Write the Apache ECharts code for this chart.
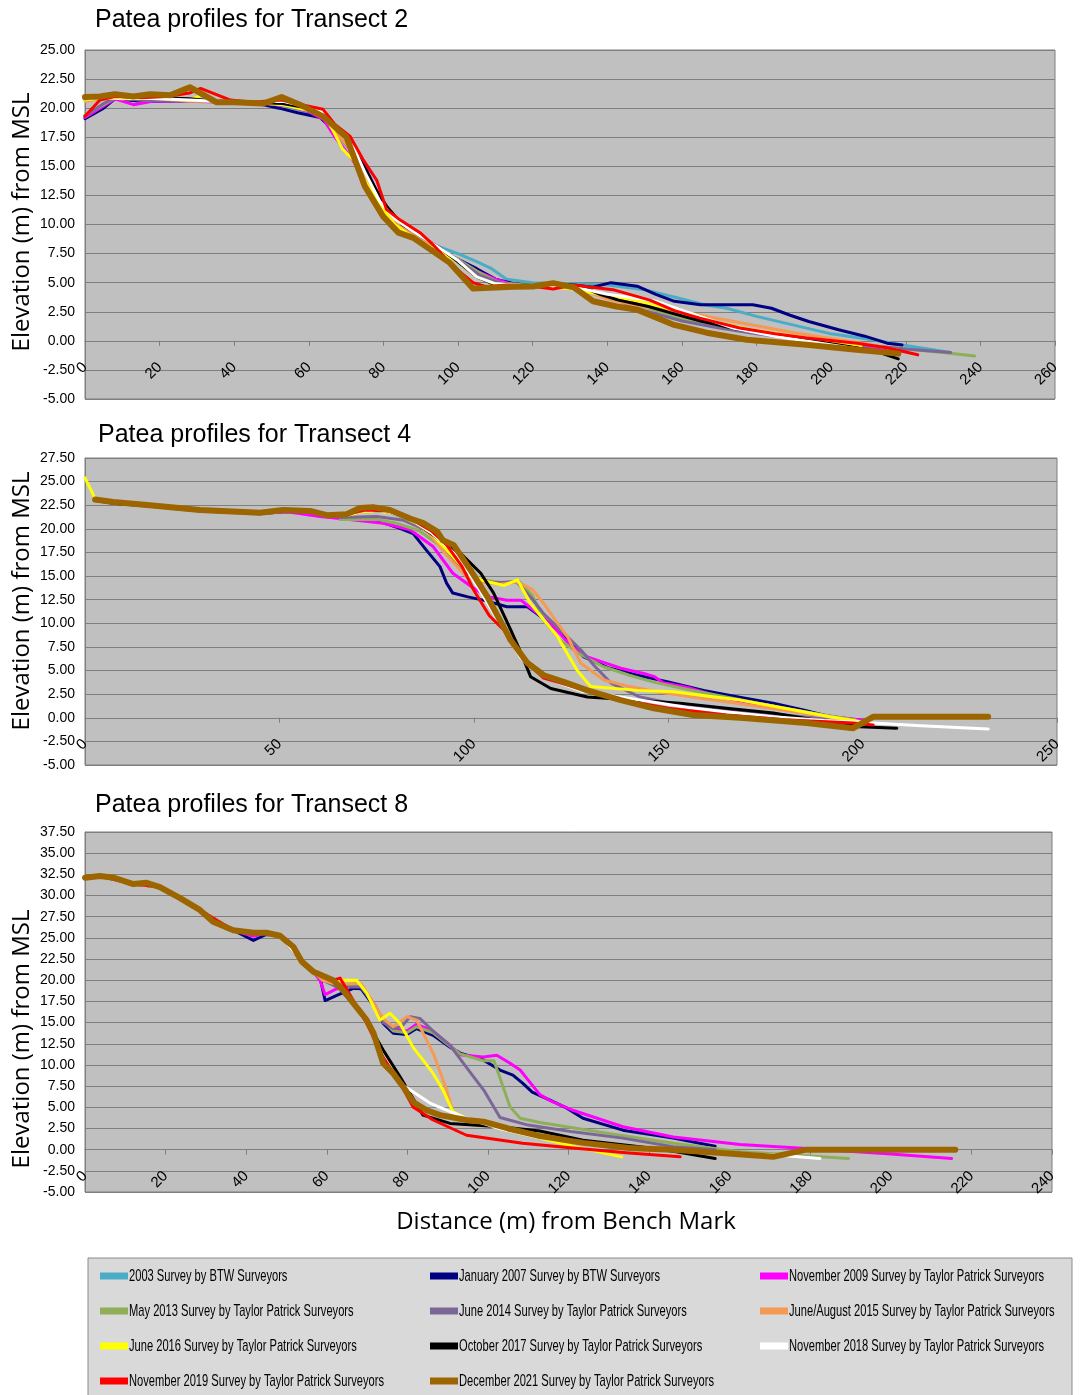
<!DOCTYPE html>
<html><head><meta charset="utf-8">
<script src="https://cdn.jsdelivr.net/npm/echarts@6/dist/echarts.min.js"></script>
<style>html,body{margin:0;padding:0;background:#fff}#c{width:1081px;height:1395px}</style>
</head><body><div id="c"></div>
<script>
// ---------- series meta ----------
const seriesNames = [
  "2003 Survey by BTW Surveyors",
  "January 2007 Survey by BTW Surveyors",
  "November 2009 Survey by Taylor Patrick Surveyors",
  "May 2013 Survey by Taylor Patrick Surveyors",
  "June 2014 Survey by Taylor Patrick Surveyors",
  "June/August 2015 Survey by Taylor Patrick Surveyors",
  "June 2016 Survey by Taylor Patrick Surveyors",
  "October 2017 Survey by Taylor Patrick Surveyors",
  "November 2018 Survey by Taylor Patrick Surveyors",
  "November 2019 Survey by Taylor Patrick Surveyors",
  "December 2021 Survey by Taylor Patrick Surveyors"
];
const seriesColors = ["#4bacc6","#000080","#ff00ff","#8fae58","#7b6698","#f59a55","#ffff00","#000000","#ffffff","#ff0000","#9c6500"];
const chartTitles = ["Patea profiles for Transect 2","Patea profiles for Transect 4","Patea profiles for Transect 8"];
const yTitle = "Elevation (m) from MSL";
const xTitle = "Distance (m) from Bench Mark";
const xMax = [260, 250, 240];
const xInterval = [20, 50, 20];
const yMax = [25, 27.5, 37.5];

// ---------- Transect 2 ----------
const t2_2003 = [[0,19.3],[5,20.3],[8,20.8],[15,20.7],[25,20.7],[35,20.6],[45,20.5],[52,20.3],[58,19.8],[63,19.3],[67,17.8],[71,16.5],[75,14.0],[79,11.8],[83,10.3],[88,9.2],[93,8.3],[100,7.5],[105,6.8],[109,6.2],[113,5.3],[120,5.0],[130,4.9],[140,4.8],[150,4.4],[160,3.6],[166,3.1],[172,2.8],[180,2.1],[192,1.2],[200,0.6],[211,0.1],[220,-0.4],[232,-1.0]];
const t2_2007 = [[0,19.1],[5,20.0],[8,20.8],[15,20.6],[25,20.6],[35,20.6],[45,20.5],[52,20.0],[57,19.6],[63,19.2],[67,18.0],[71,16.8],[75,15.0],[79,12.3],[83,10.3],[88,9.0],[93,8.1],[100,7.0],[105,6.2],[110,5.3],[115,4.9],[122,4.7],[131,4.8],[136,4.6],[141,5.0],[148,4.7],[153,4.0],[158,3.4],[165,3.1],[172,3.1],[179,3.1],[184,2.8],[189,2.2],[194,1.66],[202,0.95],[209,0.4],[215,-0.2],[219,-0.35]];
const t2_2009 = [[0,19.2],[4,20.0],[8,20.8],[13,20.3],[18,20.6],[28,20.6],[38,20.5],[48,20.4],[54,20.2],[60,19.7],[64,19.0],[67,17.5],[70,16.3],[74,14.5],[78,12.2],[82,10.0],[87,9.0],[93,8.0],[100,7.0],[105,6.0],[110,5.3],[115,4.8],[120,4.7],[130,4.6],[140,3.9],[150,3.0],[160,2.1],[170,1.4],[180,0.8],[190,0.3],[200,-0.1],[210,-0.5],[220,-0.9]];
const t2_2013 = [[0,19.4],[5,20.3],[8,20.9],[15,20.7],[25,20.7],[35,20.6],[45,20.5],[53,20.3],[60,19.8],[64,19.2],[68,17.5],[72,16.3],[75,14.0],[79,11.5],[83,10.2],[88,9.0],[94,8.0],[100,7.0],[106,5.8],[111,5.0],[118,4.8],[125,4.8],[132,4.6],[140,3.9],[150,2.9],[160,1.9],[170,1.3],[180,0.7],[190,0.3],[200,-0.1],[210,-0.4],[220,-0.7],[230,-1.0],[238.5,-1.3]];
const t2_2014 = [[0,19.3],[5,20.4],[8,20.9],[15,20.7],[25,20.6],[35,20.6],[45,20.5],[53,20.3],[60,19.8],[64,19.2],[68,17.6],[72,16.2],[75,14.0],[79,11.6],[83,10.1],[88,9.0],[94,8.0],[100,6.9],[106,5.6],[111,5.0],[118,4.7],[125,4.8],[132,4.6],[140,3.8],[150,2.6],[160,1.7],[170,1.1],[180,0.6],[190,0.2],[200,-0.1],[210,-0.4],[220,-0.7],[232,-1.0]];
const t2_2015 = [[0,20.6],[5,20.8],[10,21.0],[20,20.8],[28,20.6],[35,20.6],[45,20.5],[53,20.5],[60,20.0],[64,19.4],[68,17.6],[72,16.2],[75,14.0],[79,11.8],[83,10.3],[88,9.2],[94,8.0],[100,6.8],[105,5.5],[110,4.9],[120,4.7],[130,4.7],[140,3.6],[150,2.9],[160,2.5],[170,1.9],[180,1.3],[190,0.7],[200,0.2],[210,-0.3],[218,-0.8]];
const t2_2016 = [[0,20.7],[5,20.9],[10,20.8],[20,20.9],[28,20.7],[32,21.2],[36,20.5],[45,20.5],[53,20.3],[60,19.8],[65,19.0],[69,16.5],[72,15.5],[75,13.8],[79,11.7],[83,10.0],[88,8.9],[94,7.8],[100,6.8],[105,5.5],[110,4.8],[120,4.7],[130,4.5],[138,4.0],[147,3.5],[155,2.9],[162,2.4],[169,1.6],[178,1.0],[188,0.5],[198,0.0],[208,-0.4]];
const t2_2017 = [[0,20.8],[5,20.9],[10,21.0],[20,20.9],[28,20.8],[35,20.6],[45,20.5],[53,20.4],[60,20.0],[64,19.5],[67,18.4],[71,17.0],[75,14.8],[78,13.0],[81,11.5],[85,10.0],[90,9.0],[95,8.0],[100,6.8],[105,5.5],[110,4.8],[120,4.7],[130,4.8],[135,4.4],[138,4.0],[143,3.5],[151,2.95],[157,2.4],[165,1.7],[175,1.0],[185,0.5],[195,0.0],[205,-0.5],[212,-0.9],[218,-1.55]];
const t2_2018 = [[0,20.8],[5,20.9],[10,20.9],[20,20.8],[28,20.7],[35,20.6],[45,20.5],[53,20.6],[60,20.1],[64,19.6],[68,18.0],[72,16.6],[75,14.5],[79,12.0],[83,10.5],[88,9.4],[94,8.2],[100,6.9],[105,5.5],[110,4.9],[120,4.7],[130,4.7],[140,4.0],[147,3.7],[153,3.4],[163,2.3],[173.7,1.1],[185,0.4],[195,-0.1],[205,-0.6],[215,-1.0]];
const t2_2019 = [[0,19.3],[4,20.7],[8,21.0],[15,20.9],[22,21.0],[28,21.3],[31,21.7],[39,20.7],[45,20.5],[52.7,20.7],[58,20.3],[63.8,19.9],[67,18.6],[71,17.6],[74.5,15.6],[78.2,13.8],[80.8,11.3],[84.4,10.4],[89.8,9.3],[93.5,8.2],[97.8,6.7],[101,5.8],[104,5.0],[107.5,4.65],[113,4.8],[120,4.7],[125.5,4.45],[131,4.8],[141.5,4.4],[151.4,3.5],[158,2.6],[164.8,1.95],[175.5,1.1],[185,0.6],[193.5,0.25],[206.9,-0.2],[215,-0.6],[223.2,-1.2]];
const t2_2021 = [[0,20.95],[4,21.0],[8,21.2],[13,21.0],[17.4,21.2],[22.8,21.1],[28.1,21.8],[35.3,20.5],[40,20.5],[47.8,20.4],[52.7,20.95],[57.6,20.3],[63.8,19.3],[70.1,17.5],[75,13.3],[79.9,10.7],[84,9.3],[88,8.85],[93.3,7.7],[97.8,6.7],[104,4.5],[114.7,4.65],[120,4.67],[125.5,4.96],[131,4.6],[136.2,3.4],[142.5,2.95],[148,2.67],[157.6,1.4],[166.6,0.7],[177.4,0.09],[193.4,-0.34],[206.8,-0.77],[218,-1.1]];

// ---------- Transect 4 ----------
const t4_2007 = [[2.6,23.0],[7.3,22.7],[16.7,22.4],[29.6,21.9],[45,21.6],[51,21.8],[57.9,21.8],[62.2,21.3],[68,21.2],[75,20.9],[80,20.2],[84.4,19.5],[87.9,17.7],[91.3,16.0],[93,14.25],[94.6,13.2],[98.5,12.8],[103,12.4],[108.5,11.75],[113.8,11.75],[117.6,10.6],[121.5,9.3],[128.3,6.45],[134.5,5.3],[142.1,4.5],[150,3.8],[159.1,2.9],[168,2.2],[177,1.55],[185,0.8],[191.6,0.1],[199.3,-0.25]];
const t4_2009 = [[2.6,23.1],[10,22.7],[20,22.3],[30,21.9],[45,21.7],[52,21.8],[60.4,21.3],[68,21.0],[76.7,20.6],[83.6,19.9],[89.6,18.1],[94.6,15.3],[100.7,13.5],[104,12.8],[108.5,12.45],[112.1,12.45],[116,11.2],[120.6,9.6],[125,7.6],[129.2,6.45],[137.8,5.25],[144.5,4.6],[146.5,4.35],[148.7,3.7],[155,3.2],[163.3,2.2],[175,1.3],[185,0.6],[192.4,0.1],[200.1,-0.25]];
const t4_2013 = [[65.6,21.0],[75,21.0],[80,20.6],[86,19.8],[91,18.3],[95,16.5],[99,15.0],[102,14.6],[107.5,14.3],[111.5,14.5],[115,13.0],[118,10.3],[122,8.3],[127,6.8],[133.4,5.4],[140,4.5],[146,3.8],[155,3.0],[168.5,1.9],[180,1.0],[190,0.3],[198,-0.2]];
const t4_2014 = [[65.6,21.2],[75,21.3],[82,20.9],[88,19.8],[92,18.3],[96,16.2],[100,14.8],[105,14.3],[111,14.4],[115,12.6],[118,11.0],[121.5,9.6],[127.5,7.2],[131,5.5],[135.2,3.7],[142.7,2.2],[150,1.6],[159.9,1.16],[170,0.7],[180,0.3],[190,-0.1],[198,-0.5]];
const t4_2015 = [[68,21.8],[75,22.0],[80,21.6],[85,20.7],[89,19.3],[93,17.2],[98,15.0],[101.6,14.4],[106.6,14.1],[111.2,14.4],[115,13.6],[118,12.1],[121,10.3],[124.1,8.6],[127.5,5.8],[133.4,4.0],[140,3.3],[148,2.7],[158,2.1],[168,1.5],[178,0.9],[188,0.3],[196,-0.2],[200,-0.5]];
const t4_2016 = [[0,25.4],[2.6,23.2],[7.3,22.8],[16.7,22.4],[29.6,21.9],[45,21.6],[51,21.9],[57.9,21.8],[62.2,21.4],[67.3,21.4],[71,21.8],[75,21.9],[80,21.6],[85,20.6],[89,19.5],[93,17.8],[97,16.0],[101.8,14.6],[107.7,14.0],[111.2,14.6],[114.6,12.1],[121.5,8.6],[126.6,5.0],[130.1,3.3],[142.1,2.9],[151.3,2.75],[160,2.3],[168.5,1.87],[180,1.0],[191.6,0.1],[199.3,-0.4]];
const t4_2017 = [[2.6,23.1],[7.3,22.85],[16.7,22.5],[29.6,22.0],[45,21.7],[51,22.0],[57.9,21.9],[62.2,21.45],[67.3,21.55],[72,22.0],[78,21.8],[84,20.9],[89,19.5],[93,18.3],[96.6,17.4],[101.8,15.3],[105.1,13.2],[109.5,9.3],[112,7.0],[114.6,4.35],[119.8,3.1],[129.2,2.2],[140,1.9],[153,1.55],[165,1.0],[177,0.5],[190,-0.4],[199.3,-0.95],[208.8,-1.1]];
const t4_2018 = [[2.6,23.1],[7.3,22.85],[16.7,22.5],[29.6,22.0],[45,21.7],[51,22.0],[57.9,21.9],[62.2,21.45],[67.3,21.55],[72,22.0],[78,21.8],[84,20.9],[89,19.6],[93,18.2],[97,16.5],[100,14.5],[104,11.8],[108,9.0],[112,6.4],[115,5.2],[120,4.0],[128,2.8],[142.7,1.87],[155,1.1],[165,0.6],[177,0.1],[190,-0.3],[202.7,-0.56],[215,-0.85],[232.3,-1.2]];
const t4_2019 = [[2.6,23.1],[7.3,22.85],[16.7,22.5],[29.6,22.0],[45,21.7],[51,22.0],[57.9,21.9],[62.2,21.45],[67.3,21.55],[72,22.0],[78,21.9],[84,21.0],[89,19.8],[93,18.3],[97,16.0],[100,13.5],[104,10.8],[107.7,9.3],[112.9,6.1],[118,4.2],[125.5,3.3],[138.4,1.87],[150,1.0],[165,0.3],[180,-0.2],[197.6,-0.56],[202.7,-0.77]];
const t4_2021 = [[2.6,23.1],[7.3,22.85],[16.7,22.5],[29.6,22.0],[45,21.7],[51,22.0],[57.9,21.9],[62.2,21.45],[67.3,21.55],[70.7,22.2],[74.1,22.3],[78.4,22.0],[83.6,21.1],[87,20.6],[90.6,19.7],[92,18.8],[94.8,18.3],[99.2,15.6],[103.5,12.8],[109.5,8.2],[113.8,5.8],[118,4.5],[123.1,3.8],[129.2,2.9],[137.8,1.87],[146.3,1.0],[156.4,0.29],[168.5,0.0],[185.6,-0.56],[197.6,-1.1],[202.7,0.1],[232.3,0.1]];

// ---------- Transect 8 ----------
const t8_2007 = [[0,32.1],[3.7,32.3],[12,31.35],[18.6,31.0],[28.5,28.3],[36.8,25.9],[41.8,24.7],[45,25.4],[48.4,25.3],[51.7,23.6],[54,22.0],[56.7,20.8],[58.3,20.4],[59.6,17.6],[62.5,18.2],[66.6,19.05],[68.5,19.0],[72.4,16.5],[74,14.9],[76.5,13.75],[79.9,13.6],[82.3,14.3],[86.4,13.5],[90.6,12.1],[93.1,11.4],[98.8,10.6],[103,9.4],[106.2,8.8],[108.6,7.85],[111,6.8],[115.4,5.85],[119.6,4.9],[123.6,3.7],[133.5,2.3],[146,1.36],[156.4,0.4]];
const t8_2009 = [[0,32.1],[3.7,32.3],[12,31.35],[18.6,31.0],[28.5,28.3],[36.8,25.9],[41.8,25.2],[45,25.6],[48.4,25.25],[51.7,23.9],[54,22.2],[56.7,21.0],[58.3,20.0],[59.6,18.3],[62.5,19.0],[66.6,19.4],[68.5,19.5],[72,17.0],[74,15.3],[76.5,14.2],[79.9,14.0],[82.3,14.8],[86.4,14.0],[90.6,12.3],[93.1,11.2],[98.8,10.95],[102.2,11.15],[105.5,10.2],[108,9.4],[110,8.2],[112.9,6.5],[115.4,5.8],[121.1,4.65],[133.5,2.7],[146,1.5],[162.6,0.6],[179.1,0.14],[200,-0.5],[215.1,-1.04]];
const t8_2013 = [[0,32.1],[3.7,32.3],[12,31.35],[18.6,31.0],[28.5,28.3],[36.8,25.9],[45,25.6],[48.4,25.25],[53.8,22.2],[56.7,21.0],[59,20.0],[62.5,19.3],[66.6,19.3],[68.5,19.3],[72,17.0],[74,15.2],[76.5,14.0],[79.9,13.8],[82.3,14.5],[86.4,13.8],[90.6,12.2],[93.1,11.3],[98.8,10.5],[101.5,10.5],[105.5,5.05],[108,3.7],[112.9,3.2],[129.5,1.95],[146,0.75],[162.6,-0.26],[175,-0.6],[189.5,-1.04]];
const t8_2014 = [[0,32.1],[3.7,32.3],[12,31.35],[18.6,31.0],[28.5,28.3],[36.8,25.9],[45,25.6],[48.4,25.25],[53.8,22.2],[56.7,21.0],[59,20.0],[62.5,19.2],[66.6,19.2],[68.5,19.2],[72,17.0],[74,15.0],[76.5,14.3],[78.5,14.5],[80.7,15.7],[83.1,15.5],[86.4,14.0],[90.6,12.3],[95,9.5],[99,7.0],[103,3.8],[110,2.9],[121.1,2.1],[133.5,1.36],[146,0.33],[156.4,0.0]];
const t8_2015 = [[0,32.1],[3.7,32.3],[12,31.35],[18.6,31.0],[28.5,28.3],[36.8,25.9],[45,25.6],[48.4,25.25],[53.8,22.2],[56.7,21.0],[59,20.0],[62.5,19.5],[66.6,19.6],[68.5,19.6],[72,17.0],[74,15.5],[76.5,14.5],[78.2,15.1],[79.9,15.7],[82.3,15.3],[86.4,11.4],[89.8,7.0],[91.4,4.3],[95,3.6],[103,2.6],[112,1.6],[122,1.0],[132,0.5]];
const t8_2016 = [[0,32.1],[3.7,32.3],[12,31.35],[18.6,31.0],[28.5,28.3],[36.8,25.9],[45,25.6],[48.4,25.25],[53.8,22.2],[56.7,20.8],[61.6,20.0],[67.4,20.0],[69.9,18.5],[73.2,15.3],[75.7,16.1],[78.2,14.9],[81.4,12.1],[84,10.5],[86.4,9.0],[88.9,7.0],[91.3,4.5],[96,3.3],[105,2.3],[112.9,1.36],[122,0.3],[133.2,-0.85]];
const t8_2017 = [[0,32.1],[3.7,32.3],[12,31.35],[18.6,31.0],[28.5,28.3],[36.8,25.9],[45,25.6],[48.4,25.25],[53.8,22.2],[56.7,21.0],[61.6,20.0],[64.1,18.5],[68.3,16.5],[74,11.75],[78.2,8.6],[83.9,4.07],[90.6,3.1],[103,2.7],[112.9,2.2],[123.6,1.1],[137.7,0.33],[146,-0.2],[156.4,-1.04]];
const t8_2018 = [[0,32.1],[3.7,32.3],[12,31.35],[18.6,31.0],[28.5,28.3],[36.8,25.9],[45,25.6],[48.4,25.25],[53.8,22.2],[56.7,21.0],[61.6,20.0],[66,17.5],[69.9,14.9],[74,11.0],[78.2,7.85],[85.6,5.5],[94.7,3.7],[103,2.5],[112,1.5],[125,0.7],[140,0.1],[155,-0.4],[172.5,-0.65],[182.4,-1.04]];
const t8_2019 = [[0,32.1],[3.7,32.3],[12,31.35],[18.6,31.0],[28.5,28.3],[36.8,25.9],[45,25.6],[48.4,25.25],[51.7,23.9],[53.8,22.0],[56.7,21.0],[61.6,20.0],[63.3,20.25],[66.6,17.6],[69.9,14.9],[74,10.9],[78.2,7.85],[81.4,5.05],[86.4,3.5],[94.7,1.7],[108.6,0.75],[121.1,0.2],[135,-0.4],[147.7,-0.85]];
const t8_2021 = [[0,32.1],[3.7,32.3],[7.2,32.1],[12,31.35],[15.3,31.5],[18.6,31.0],[23.6,29.7],[28.5,28.3],[31.8,26.9],[36.8,25.9],[41.8,25.6],[45,25.6],[48.4,25.25],[51.7,23.95],[53.8,22.2],[56.7,21.0],[61.6,20.0],[64.1,18.8],[66.6,17.3],[69.9,15.3],[71.6,13.75],[74,10.2],[76.5,9.0],[79,7.4],[81.5,5.6],[84.8,4.65],[88.1,4.07],[94.7,3.5],[98.9,3.3],[105,2.5],[112.9,1.6],[123.7,0.8],[135,0.2],[146,0.0],[158,-0.4],[170.8,-0.85],[179,0.0],[216,0.0]];

const transects = [
  [t2_2003,t2_2007,t2_2009,t2_2013,t2_2014,t2_2015,t2_2016,t2_2017,t2_2018,t2_2019,t2_2021],
  [null,t4_2007,t4_2009,t4_2013,t4_2014,t4_2015,t4_2016,t4_2017,t4_2018,t4_2019,t4_2021],
  [null,t8_2007,t8_2009,t8_2013,t8_2014,t8_2015,t8_2016,t8_2017,t8_2018,t8_2019,t8_2021]
];

// ---------- layout ----------
const SANS = '"Liberation Sans", Arial, sans-serif';
const grids = [
  {left:85, top:50, width:970, height:349},
  {left:85, top:458, width:972, height:307},
  {left:85, top:832, width:967, height:360}
];
const titlePos = [[95,20],[98,435],[95,805]];
const yTitlePos = [[22,222],[22,601],[22,1039]];

const series = [];
transects.forEach((arr, k) => {
  arr.forEach((d, i) => {
    if (!d) return;
    series.push({
      type:'line', name: seriesNames[i], xAxisIndex:k, yAxisIndex:k,
      data: d, showSymbol:false, symbol:'none', animation:false,
      z: 2 + i,
      itemStyle:{color: seriesColors[i]},
      lineStyle:{color: seriesColors[i], width: i === 10 ? 6 : 3, join:'round', cap:'round'}
    });
  });
});

const xAxes = grids.map((g,k) => ({
  type:'value', gridIndex:k, min:0, max:xMax[k], interval:xInterval[k], position:'bottom',
  // axis crosses at elevation 0 (Excel style)
  offset: -g.height * 5 / (yMax[k] + 5),
  axisLine:{show:true, onZero:false, lineStyle:{color:'#7f7f7f', width:1}},
  axisTick:{show:true, length:5, lineStyle:{color:'#7f7f7f'}},
  axisLabel:{rotate:45, color:'#000', fontFamily:SANS, fontSize:15, margin:24, showMinLabel:true, showMaxLabel:true},
  splitLine:{show:false}
}));
const yAxes = grids.map((g,k) => ({
  type:'value', gridIndex:k, min:-5, max:yMax[k], interval:2.5,
  axisLine:{show:true, onZero:false, lineStyle:{color:'#7f7f7f'}},
  axisTick:{show:false},
  axisLabel:{color:'#000', fontFamily:SANS, fontSize:14, margin:10, formatter: v => v.toFixed(2)},
  splitLine:{show:true, lineStyle:{color:'#7f7f7f', width:1.2}}
}));

const legendCols = [100, 430, 760];
const legendRows = [1276, 1311, 1346, 1381];
const legends = seriesNames.map((n, i) => ({
  data:[n], left: legendCols[i % 3], top: legendRows[Math.floor(i / 3)] - 3.5,
  padding:0, icon:'rect', itemWidth:28, itemHeight:7, itemGap:0, z:10,
  formatter: () => '',
  textStyle:{fontSize:1}
}));

const graphics = [
  {type:'rect', z:0, shape:{x:88, y:1258, width:984, height:140}, style:{fill:'#d9d9d9', stroke:'#8a8a8a', lineWidth:1}}
];
// legend labels (condensed lettering as in the original)
seriesNames.forEach((n, i) => graphics.push({
  type:'text', z:11, x: legendCols[i % 3] + 29, y: legendRows[Math.floor(i / 3)], scaleX:0.655,
  style:{text:n, font:'17px ' + SANS, fill:'#000', align:'left', verticalAlign:'middle', textAlign:'left', textVerticalAlign:'middle'}
}));
chartTitles.forEach((t,k) => graphics.push({
  type:'text', x:titlePos[k][0], y:titlePos[k][1], z:5,
  style:{text:t, font:'25px ' + SANS, fill:'#000', align:'left', verticalAlign:'middle', textAlign:'left', textVerticalAlign:'middle'}
}));
yTitlePos.forEach(p => graphics.push({
  type:'text', x:p[0], y:p[1], rotation:Math.PI/2, z:5,
  style:{text:yTitle, font:'24px "Open Sans", sans-serif', fill:'#000', align:'center', verticalAlign:'middle', textAlign:'center', textVerticalAlign:'middle'}
}));
graphics.push({
  type:'text', x:566, y:1222, z:5,
  style:{text:xTitle, font:'24px "Open Sans", sans-serif', fill:'#000', align:'center', verticalAlign:'middle', textAlign:'center', textVerticalAlign:'middle'}
});

const chart = echarts.init(document.getElementById('c'), null, {renderer:'canvas'});
chart.setOption({
  backgroundColor:'#ffffff',
  animation:false,
  grid: grids.map(g => Object.assign({show:true, backgroundColor:'#c0c0c0', borderColor:'#7f7f7f', borderWidth:1}, g)),
  xAxis: xAxes,
  yAxis: yAxes,
  legend: legends,
  graphic: graphics,
  series: series
});
</script>
</body></html>
